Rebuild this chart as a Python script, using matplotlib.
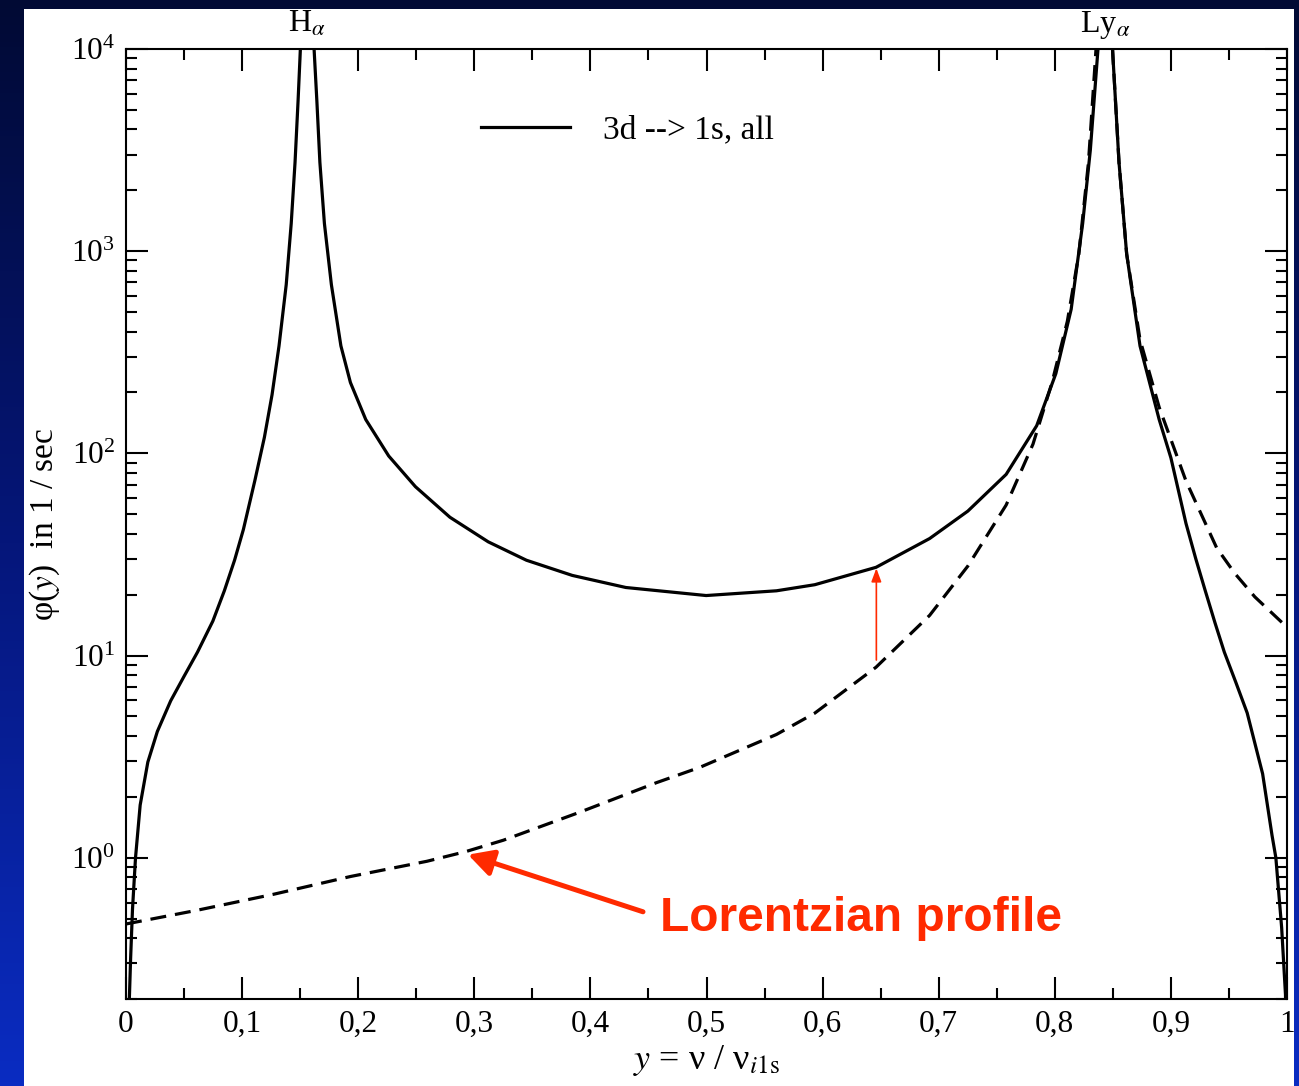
import numpy as np
import matplotlib
matplotlib.use('Agg')
import matplotlib.pyplot as plt
from matplotlib.patches import Rectangle
from matplotlib.colors import LinearSegmentedColormap
from matplotlib.ticker import FixedLocator, FixedFormatter, LogLocator, NullFormatter
import matplotlib.transforms as mtransforms

plt.rcParams['font.family'] = ['Liberation Serif', 'DejaVu Serif']
plt.rcParams['mathtext.fontset'] = 'stix'

# 3d -> 1s two-photon profile (solid)
y_all = [0.001, 0.003, 0.004, 0.0056, 0.0082, 0.0122, 0.0188, 0.027, 0.0385, 0.050,
         0.0616, 0.0748, 0.0847, 0.0935, 0.1011, 0.111, 0.1192, 0.1258, 0.1318, 0.138,
         0.1423, 0.1456, 0.1482, 0.1502, 0.1535, 0.15625, 0.159, 0.162, 0.1644, 0.167,
         0.1709, 0.1769, 0.1851, 0.1933, 0.2065, 0.2263, 0.2493, 0.279, 0.312, 0.3449,
         0.3844, 0.4305, 0.4997, 0.5603, 0.5933, 0.646, 0.6922, 0.7251, 0.7581, 0.7844,
         0.8009, 0.8141, 0.824, 0.8306, 0.8372, 0.8405, 0.84375, 0.847, 0.8497, 0.8553,
         0.8619, 0.8734, 0.8899, 0.900, 0.913, 0.9215, 0.9295, 0.938, 0.946, 0.9558,
         0.9657, 0.979, 0.9871, 0.9904, 0.9954, 0.9987, 0.9995]
phi_all = [0.1, 0.21, 0.32, 0.557, 1.0, 1.82, 2.97, 4.21, 5.97, 7.89,
           10.4, 14.8, 20.9, 29.6, 42, 73.4, 120, 195, 340, 683,
           1370, 2750, 5530, 1.0e4, 4.0e4, 1.0e6, 4.0e4, 1.0e4, 5530, 2750,
           1370, 683, 340, 224, 147, 97, 68.4, 48.3, 36.5, 29.6,
           24.9, 21.7, 19.8, 20.9, 22.4, 27.3, 37.9, 51.8, 78.7, 137,
           248, 516, 1370, 3160, 1.0e4, 4.0e4, 1.0e6, 4.0e4, 1.0e4, 2750,
           968, 340, 147, 95, 45, 30, 21, 14.5, 10.4, 7.4,
           5.2, 2.6, 1.29, 1.0, 0.45, 0.21, 0.1]

# Lorentzian profile around Ly-alpha (dashed)
y_lor = [0.0, 0.0616, 0.1275, 0.1933, 0.2592, 0.2922, 0.325, 0.391, 0.4569, 0.4944,
         0.5603, 0.5933, 0.646, 0.6922, 0.7251, 0.7581, 0.7812, 0.7976, 0.8108, 0.8207,
         0.829, 0.8355, 0.8405, 0.84375, 0.847, 0.8497, 0.8553, 0.8619, 0.8734, 0.8899,
         0.913, 0.9394, 0.955, 0.9723, 1.0]
phi_lor = [0.47, 0.55, 0.66, 0.807, 0.96, 1.07, 1.22, 1.68, 2.35, 2.8,
           4.07, 5.19, 8.75, 15.8, 27.7, 55.5, 111, 224, 450, 968,
           2750, 1.0e4, 4.0e4, 1.0e6, 4.0e4, 1.0e4, 2750, 968, 365, 169,
           73, 34.1, 25.5, 19.5, 13.8]

x_ticks = [0.0, 0.1, 0.2, 0.3, 0.4, 0.5, 0.6, 0.7, 0.8, 0.9, 1.0]
x_tick_labels = ['0', '0,1', '0,2', '0,3', '0,4', '0,5', '0,6', '0,7', '0,8', '0,9', '1']
x_minor = [0.05, 0.15, 0.25, 0.35, 0.45, 0.55, 0.65, 0.75, 0.85, 0.95]

line_pos = [0.15625, 0.84375]
line_names = [r'H$_{\alpha}$', r'Ly$_{\alpha}$']

red = '#ff2a00'
W, H = 1299, 1086

fig = plt.figure(figsize=(W / 100, H / 100), dpi=100)

# blue slide background + white panel
bg = fig.add_axes([0, 0, 1, 1], zorder=-5)
grad = np.linspace(0, 1, 256).reshape(-1, 1)
cmap = LinearSegmentedColormap.from_list('bg', ['#010a34', '#05167a', '#0a2cc2'])
bg.imshow(grad, aspect='auto', cmap=cmap, extent=[0, 1, 0, 1], origin='upper')
bg.add_patch(Rectangle((24 / W, 0), (1294 - 24) / W, (H - 9) / H,
                       facecolor='white', edgecolor='none', transform=bg.transAxes))
bg.set_xlim(0, 1)
bg.set_ylim(0, 1)
bg.axis('off')

ax = fig.add_axes([126 / W, 87 / H, 1161 / W, 950 / H])
ax.set_facecolor('none')

ax.plot(y_all, phi_all, color='black', lw=2.3, label='3d --> 1s, all', solid_joinstyle='round')
ax.plot(y_lor, phi_lor, color='black', lw=2.3, linestyle=(0, (5, 2.8)))

ax.set_yscale('log')
ax.set_xlim(0, 1)
ax.set_ylim(0.2, 1e4)

ax.xaxis.set_major_locator(FixedLocator(x_ticks))
ax.xaxis.set_major_formatter(FixedFormatter(x_tick_labels))
ax.xaxis.set_minor_locator(FixedLocator(x_minor))
ax.yaxis.set_major_locator(LogLocator(base=10))
ax.yaxis.set_minor_locator(LogLocator(base=10, subs=np.arange(2, 10)))
ax.yaxis.set_minor_formatter(NullFormatter())

ax.tick_params(which='both', direction='in', top=True, right=True, width=1.5, labelsize=22.5, pad=8)
ax.tick_params(which='major', length=16)
ax.tick_params(which='minor', length=8)
for s in ax.spines.values():
    s.set_linewidth(1.5)

ax.set_ylabel(r'φ($y$)  in 1 / sec', fontsize=24)
ax.yaxis.set_label_coords(-0.055, 0.5)
ax.set_xlabel(r'$y$ = ν / ν$_{i\mathrm{1s}}$', fontsize=26)
ax.xaxis.set_label_coords(0.5, -0.046)

trans = mtransforms.blended_transform_factory(ax.transData, ax.transAxes)
for xp, nm in zip(line_pos, line_names):
    ax.text(xp, 1.018, nm, transform=trans, ha='center', va='baseline', fontsize=23)

ax.legend(loc='center left', bbox_to_anchor=(0.3058, 0.9147), frameon=False,
          fontsize=24, handlelength=2.67, handletextpad=1.0, borderpad=0, borderaxespad=0)

# annotations
ax.annotate('', xy=(0.2946, 1.035), xytext=(0.4453, 0.54),
            arrowprops=dict(arrowstyle='-|>,head_length=0.75,head_width=0.4', color=red,
                            lw=3.6, mutation_scale=20, shrinkA=0, shrinkB=0))
ax.text(0.46, 0.50, 'Lorentzian profile', color=red, fontsize=34.5, fontweight='bold',
        family='Liberation Sans', ha='left', va='center')
ax.annotate('', xy=(0.6463, 27.0), xytext=(0.6463, 9.5),
            arrowprops=dict(arrowstyle='-|>,head_length=0.8,head_width=0.3', color=red,
                            lw=1.2, mutation_scale=10, shrinkA=0, shrinkB=0))

fig.savefig('out.png', dpi=100)
